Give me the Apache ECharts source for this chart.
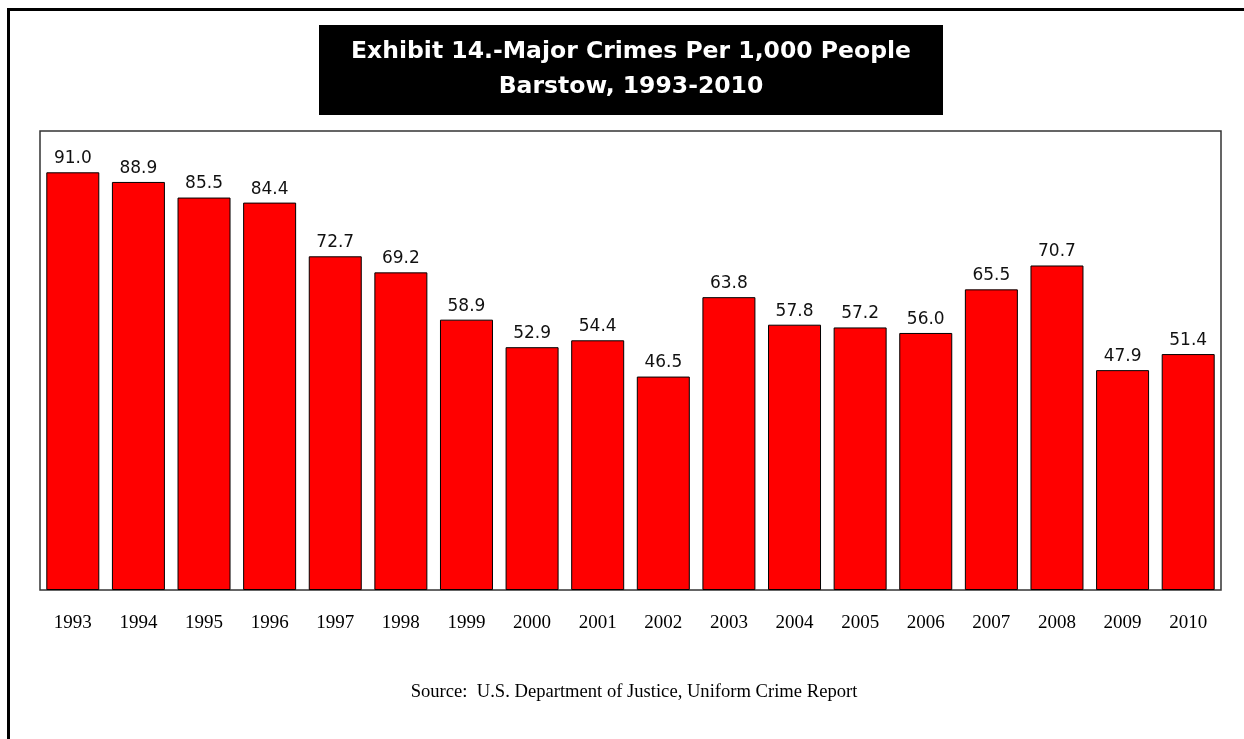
<!DOCTYPE html>
<html>
<head>
<meta charset="utf-8">
<script src="https://cdn.jsdelivr.net/npm/echarts@6/dist/echarts.min.js"></script>
<style>
html,body{margin:0;padding:0;background:#fff;}
#chart{width:1244px;height:739px;}
</style>
</head>
<body>
<div id="chart"></div>
<script>
const years = ['1993','1994','1995','1996','1997','1998','1999','2000','2001','2002','2003','2004','2005','2006','2007','2008','2009','2010'];
const crimesPer1000 = [91.0, 88.9, 85.5, 84.4, 72.7, 69.2, 58.9, 52.9, 54.4, 46.5, 63.8, 57.8, 57.2, 56.0, 65.5, 70.7, 47.9, 51.4];
const titleLines = ['Exhibit 14.-Major Crimes Per 1,000 People', 'Barstow, 1993-2010'];
const sourceText = 'Source:  U.S. Department of Justice, Uniform Crime Report';

const chart = echarts.init(document.getElementById('chart'));
chart.setOption({
  backgroundColor: '#fff',
  animation: false,
  grid: {
    left: 40, right: 23, top: 131, bottom: 149,
    show: true, borderColor: '#333', borderWidth: 1.5, backgroundColor: '#fff'
  },
  xAxis: {
    type: 'category',
    data: years,
    axisLine: { show: false },
    axisTick: { show: false },
    axisLabel: {
      margin: 24,
      color: '#000',
      fontFamily: 'Liberation Serif',
      fontSize: 19
    }
  },
  yAxis: {
    type: 'value',
    min: 0, max: 100,
    show: false,
    splitLine: { show: false }
  },
  series: [{
    type: 'bar',
    data: crimesPer1000,
    barWidth: 53,
    itemStyle: { color: '#ff0000', borderColor: '#000', borderWidth: 1 },
    label: {
      show: true,
      position: 'top',
      distance: 5,
      color: '#111',
      fontFamily: 'DejaVu Sans',
      fontSize: 17,
      formatter: p => p.value.toFixed(1)
    }
  }],
  graphic: [
    { type: 'rect', shape: { x: 7, y: 8, width: 1237, height: 3 }, style: { fill: '#000' }, silent: true },
    { type: 'rect', shape: { x: 7, y: 8, width: 3, height: 731 }, style: { fill: '#000' }, silent: true },
    { type: 'rect', shape: { x: 319, y: 25, width: 624, height: 90 }, style: { fill: '#000' }, silent: true },
    { type: 'text', x: 631, y: 52, style: { text: titleLines[0], fill: '#fff', font: 'bold 23.5px "DejaVu Sans"', textAlign: 'center', textVerticalAlign: 'middle' }, silent: true },
    { type: 'text', x: 631, y: 87, style: { text: titleLines[1], fill: '#fff', font: 'bold 23.5px "DejaVu Sans"', textAlign: 'center', textVerticalAlign: 'middle' }, silent: true },
    { type: 'text', x: 634, y: 692, style: { text: sourceText, fill: '#000', font: '18.6px "Liberation Serif"', textAlign: 'center', textVerticalAlign: 'middle' }, silent: true }
  ]
});
</script>
</body>
</html>
